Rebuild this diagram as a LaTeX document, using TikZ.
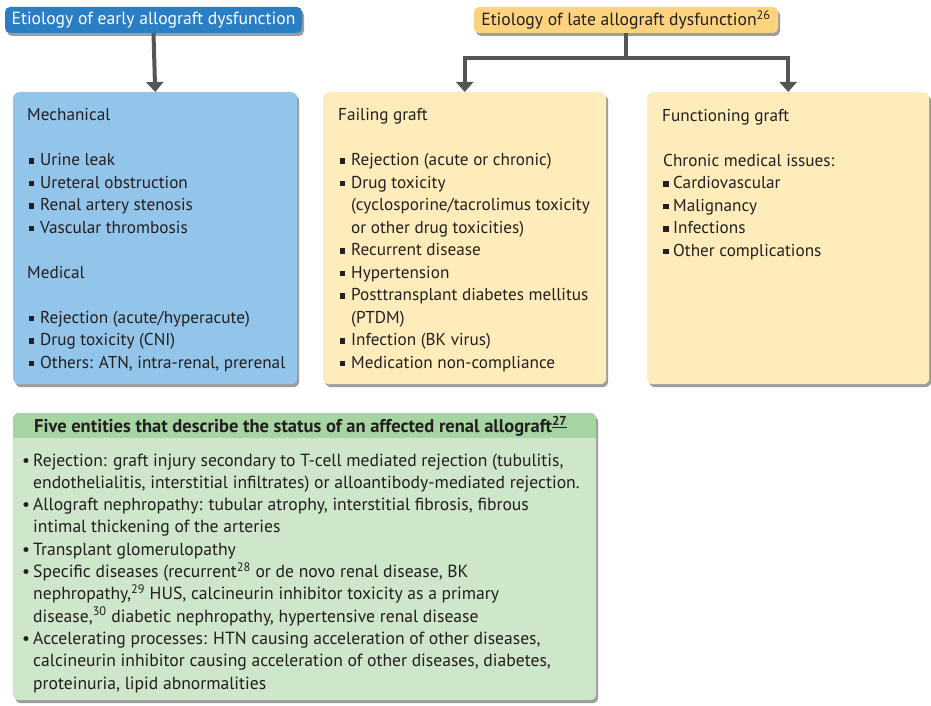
\documentclass[tikz,border=0pt]{standalone}
\usepackage{fontspec}
\setmainfont{PT Sans}
\usetikzlibrary{shadows,arrows.meta}
\definecolor{tblue}{HTML}{2A7FC4}
\definecolor{bbox}{HTML}{93C4E9}
\definecolor{tyel}{HTML}{FDD37D}
\definecolor{ybox}{HTML}{FEEDBB}
\definecolor{ghead}{HTML}{A6D5A3}
\definecolor{gbody}{HTML}{CEE6C9}
\definecolor{conn}{HTML}{555555}
\definecolor{ink}{HTML}{231F20}
\newcommand\sqi{\makebox[13pt][l]{\hspace{1.5pt}\rule[2pt]{5.5pt}{5.5pt}}}
\newcommand\sqc{\hspace*{13pt}}
\newcommand\fsq{\makebox[10pt][l]{\rule[2pt]{5.5pt}{5.5pt}}}
\newcommand\dotb{\makebox[11pt][l]{\textbullet}}
\newcommand\dotc{\hspace*{11pt}}
\tikzset{
  shad/.style={drop shadow={shadow xshift=2pt,shadow yshift=-3pt,opacity=0.55,fill=black!70}},
  titlebox/.style={rounded corners=5pt,shad,minimum height=26pt,inner sep=0pt,font=\fontsize{17.6}{19}\selectfont},
  bigbox/.style={rounded corners=6pt,shad,anchor=north west,inner sep=0pt},
  txt/.style={anchor=base west,inner sep=0pt,align=left,text=ink,font=\fontsize{17.2}{22.5}\selectfont},
  gtxt/.style={anchor=base west,inner sep=0pt,align=left,text=ink,font=\fontsize{17.6}{22.3}\selectfont},
  connline/.style={draw=conn,line width=4pt,-{Triangle[width=17pt,length=10pt]}}
}
\begin{document}
\begin{tikzpicture}[x=1pt,y=-1pt]
\useasboundingbox (0,0) rectangle (931,706);
% title boxes
\node[titlebox,fill=tblue,text=white,minimum width=297pt] (et) at (153.5,20) {Etiology of early allograft dysfunction};
\node[titlebox,fill=tyel,text=ink,minimum width=304pt] (lt) at (626,20) {Etiology of late allograft dysfunction\textsuperscript{26}};
% big boxes
\node[bigbox,fill=bbox,minimum width=284pt,minimum height=292pt] (bb) at (13,92) {};
\node[bigbox,fill=ybox,minimum width=283pt,minimum height=292pt] (fb) at (323,92) {};
\node[bigbox,fill=ybox,minimum width=282pt,minimum height=292pt] (fg) at (647,92) {};
\node[bigbox,fill=gbody,minimum width=583pt,minimum height=287pt] (gb) at (13,413) {};
\begin{scope}
\clip[rounded corners=6pt] (gb.north west) rectangle (gb.south east);
\fill[ghead] (gb.north west) rectangle ([yshift=-25pt]gb.north east);
\end{scope}
% connectors
\coordinate (j) at (626,58);
\draw[connline] (et.south) -- (bb.north);
\draw[connline] (lt.south) -- (j) -| (fb.north);
\draw[connline] (j) -| (fg.north);
% texts
\node[txt] (t1) at (27,368) {Mechanical\\ \\
\sqi Urine leak\\
\sqi Ureteral obstruction\\
\sqi Renal artery stenosis\\
\sqi Vascular thrombosis\\ \\
Medical\\ \\
\sqi Rejection (acute/hyperacute)\\
\sqi Drug toxicity (CNI)\\
\sqi Others: ATN, intra-renal, prerenal};
\node[txt] (t2) at (338,368) {Failing graft\\ \\
\sqi Rejection (acute or chronic)\\
\sqi Drug toxicity\\
\sqc (cyclosporine/tacrolimus toxicity\\
\sqc or other drug toxicities)\\
\sqi Recurrent disease\\
\sqi Hypertension\\
\sqi Posttransplant diabetes mellitus\\
\sqc (PTDM)\\
\sqi Infection (BK virus)\\
\sqi Medication non-compliance};
\node[txt] (t3) at (662,256) {Functioning graft\\ \\
\hspace*{1pt}Chronic medical issues:\\
\hspace*{1pt}\fsq Cardiovascular\\
\hspace*{1pt}\fsq Malignancy\\
\hspace*{1pt}\fsq Infections\\
\hspace*{1pt}\fsq Other complications};
\node[anchor=base west,inner sep=0pt,text=ink,font=\fontsize{18.5}{20}\selectfont\bfseries] (gh) at (34,432) {Five entities that describe the status of an affected renal allograft\textsuperscript{\underline{27}}};
\node[gtxt] (t4) at (22,689) {\dotb Rejection: graft injury secondary to T-cell mediated rejection (tubulitis,\\
\dotc endothelialitis, interstitial infiltrates) or alloantibody-mediated rejection.\\
\dotb Allograft nephropathy: tubular atrophy, interstitial fibrosis, fibrous\\
\dotc intimal thickening of the arteries\\
\dotb Transplant glomerulopathy\\
\dotb Specific diseases (recurrent\textsuperscript{28} or de novo renal disease, BK\\
\dotc nephropathy,\textsuperscript{29} HUS, calcineurin inhibitor toxicity as a primary\\
\dotc disease,\textsuperscript{30} diabetic nephropathy, hypertensive renal disease\\
\dotb Accelerating processes: HTN causing acceleration of other diseases,\\
\dotc calcineurin inhibitor causing acceleration of other diseases, diabetes,\\
\dotc proteinuria, lipid abnormalities};
\end{tikzpicture}
\end{document}
